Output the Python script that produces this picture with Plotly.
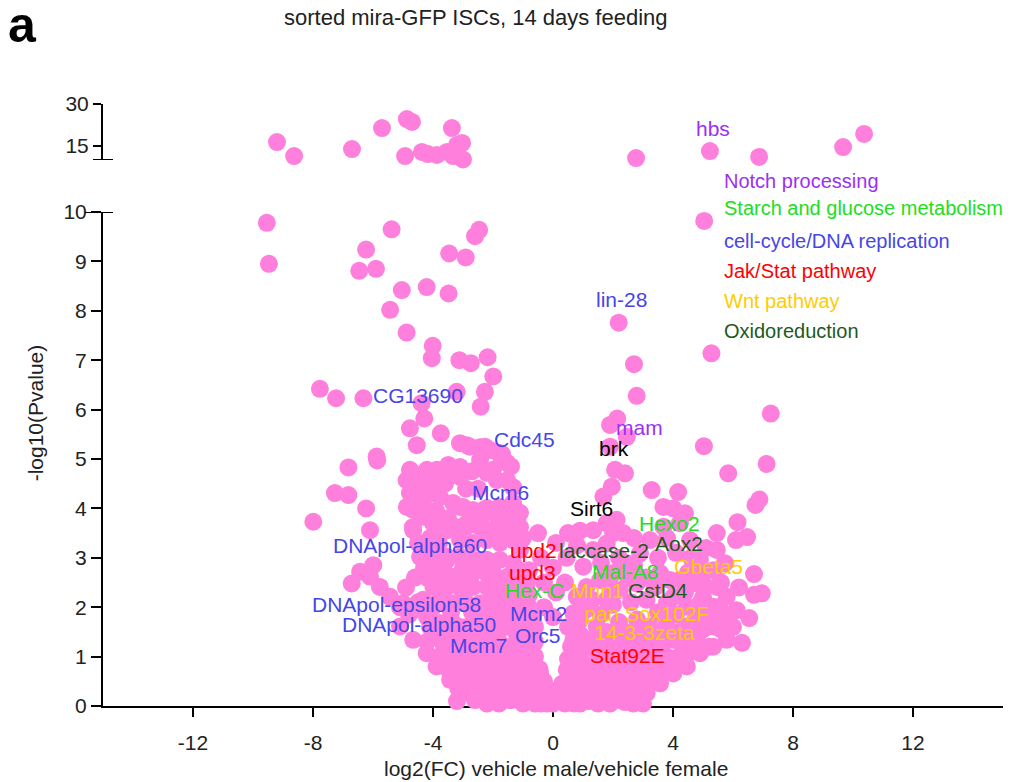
import plotly.graph_objects as go

# ---------------- data ----------------
# points in the lower (0-10) segment: log2FC, -log10(p)
low_x = [
    -9.54, -9.47, -5.38, -6.23, -6.46, -5.90, -5.04, -4.21, -3.48, -5.43, -3.46, -2.91, -2.60, -2.46,
    -4.88, -4.01, -4.04, -3.12, -2.74, -2.18, -1.99, -7.77, -7.23, -6.32, -3.21, -2.27, -2.41, -4.38,
    -4.29, -4.77, -4.54, -3.74, -3.10, -2.77, -2.27, -1.77, -5.88, -1.70, -1.40,
    -6.82, -5.86, -7.27, -6.82, -6.23, -7.99, -6.10, -4.71, -4.88, -4.21, -3.49, -3.66, -3.10, -3.88,
    -4.77, -4.32, -4.66, -3.10, -2.32, -1.43, -1.21, -1.88, -2.88, -3.99, -4.66, -3.66, -4.21, -3.88,
    -3.54, -5.99, -6.43, -6.71, -6.10, -5.77, -5.43, -3.99, -3.32, -2.21, -2.77, -2.43, -1.99, -1.66,
    -1.21, -1.10, -0.88, -5.10, -4.66, -4.21, -3.88, -3.43, -3.16, -2.88, -2.88, -2.54, -2.21, -2.43,
    -1.88, -1.32, -0.99, -1.43, -1.88, -2.10, -1.32, -0.77, -0.43, -0.66, -0.21, -1.43, -0.88,
    -2.87, -2.43, -2.10, -1.77, -1.53, -2.43, -2.00, -1.53, -1.33, -1.87, -2.20, -3.10, -3.87, -4.20,
    -4.77, -4.77, -4.43, -4.00, -3.77, -3.33, -3.00, -2.67, -2.20, -1.77, -1.33, -1.10, -1.10, -1.53,
    -2.00, -2.43, -2.87, -3.20, -3.53, -4.00, -4.33, -4.67, -4.87, -4.67, -3.10, -2.67, -2.20, -1.77,
    -1.33, -1.10, -1.33, -1.77, -2.20, -2.67, -3.10, -3.53, -4.00, -4.43, -3.87, -3.33, -2.87, -2.43,
    -2.00, -1.53, -1.10, -0.87, -1.33, -1.77, -2.20, -2.67, -3.10, -3.53, -4.33, -3.87, -3.33, -2.87,
    -2.20, -1.53, -0.87, -0.67, -1.10, -1.53, -2.00, -2.43, -2.87, -3.33, -3.77, -4.20, -4.67, -5.00,
    -5.10, -4.80, -4.50, -4.90, -4.60, -4.30, -4.00, -3.70, -3.40, -3.00, -2.70, -2.20, -1.70, -1.40,
    -4.10, -3.60, -3.10, -2.60, -1.60, -0.90,
    -4.20, -3.70, -3.20, -2.70, -2.20, -1.80, -1.00, -0.60,
    -3.80, -3.40, -2.50, -2.00, -1.60, -1.20, -0.60,
    -3.50, -3.00, -2.20, -1.80, -1.40, -1.00, -0.45,
    -3.00, -2.60, -1.80, -1.40, -1.00, -0.60, -0.30,
    -2.70, -2.30, -1.90, -1.50, -1.10, -0.35, -0.20, 0.00,
    -2.20, -1.80, -1.00, -0.60, 0.00,
    -0.50, -0.40, -0.30, -0.30, -0.60, 0.10, 0.00, 0.10, 0.00, 0.50, 0.45, 0.40, 0.50, 0.90,
    2.19, 5.04, 5.28, 2.70, 2.79, 7.26, 2.14, 1.90, 2.46, 1.90, 7.12, 6.88, 6.75, 6.15, 6.47, 6.10,
    6.70, 6.96, 6.70, 6.54, 6.30, 5.84, 5.03, 4.17, 3.29, 4.01, 3.68, 2.07, 2.40, 1.96, 1.68, 1.79,
    1.34, 2.12, 2.34, 5.46, 5.73, 5.46, 5.79, 6.12, 5.79, 5.34, 4.90, 5.79, 5.34, 4.90, 4.46, 4.01,
    3.57, 3.12, 2.68, 2.23, 2.90, 2.34, 3.34, 3.79, 4.34, 4.79, 5.34, 5.68, 4.46, 4.01, 3.57, 3.12,
    2.68, 2.01, 1.57, 1.12, 0.68, 0.23, 0.90, 0.46, 1.23, 0.68, 0.90, 1.46, 1.79, 2.23, 2.79, 3.12,
    4.01, 4.46, 4.90, 3.79, 3.23, 2.68, 2.12, 1.68, 3.57, 4.23, 4.79, 5.12, 3.23, 2.90, 2.46, 2.01,
    1.57, 1.12, 0.79, 0.68, 1.34, 1.01, 1.79, 3.68, 4.23, 4.57, 4.90, 5.34, 5.46,
    1.80, 2.40, 3.00, 3.60, 4.20,
    0.60, 1.10, 2.20, 2.80, 3.40, 4.60, 5.20,
    0.50, 1.50, 2.00, 2.30, 4.00, 4.40,
    0.90, 1.40, 1.90, 2.40, 3.60,
    0.30, 0.80, 1.30, 1.80, 2.80,
    0.15, 0.60, 1.10, 1.60, 2.10, 2.60,
    0.40, 0.90, 1.50, 1.90,
    # extra points read from the dense parts of both wings
    -4.50, -4.10, -3.60, -3.30, -2.90, -2.50, -2.70, -4.40, -3.90, -3.50, -2.40, -1.90, -1.50,
    -4.50, -4.10, -3.80, -1.00, -4.20, -3.60, -3.00, -2.40, -1.90, -1.40, -0.80, -0.80,
    -4.00, -3.50, -3.00, -2.40, -2.00, -1.20, -3.60, -3.10, -2.60, -2.00, -1.40, -0.90,
    -3.30, -2.80, -2.30, -1.80, -1.30, -0.80, -3.20, -2.70, -2.00, -1.60, -1.20, -0.80,
    -2.80, -2.40, -2.00, -1.60, -1.20, -0.80, -0.50, -2.60, -1.40, -0.40,
    0.20, 0.70, 1.20, 1.70, 2.40, 2.90, 0.50, 1.00, 1.50, 2.00, 2.50, 3.10,
    0.70, 1.20, 1.70, 2.20, 2.70, 3.20, 3.70, 0.80, 1.40, 1.90, 2.50, 3.00, 3.60, 4.20,
    0.90, 1.50, 2.60, 3.30, 3.90, 4.50, 5.00, 5.60, 1.10, 1.60, 2.20, 2.80, 3.50, 4.10,
    4.70, 5.20, 6.00, 1.30, 2.00, 2.60, 3.40, 3.80, 4.40, 5.00, 5.50, 1.90, 2.50, 3.10,
    3.90, 4.50, 5.00, 5.60, 6.20, 1.60, 2.20, 2.70, 3.50, 4.10, 4.60, 5.10, 0.80, 2.00,
    2.70, 3.80, 4.40, -3.20, 3.00,
]
low_y = [
    9.78, 8.95, 9.65, 9.24, 8.81, 8.85, 8.42, 8.48, 8.35, 8.02, 9.16, 9.08, 9.51, 9.64,
    7.56, 7.29, 7.04, 7.00, 6.94, 7.06, 6.67, 6.42, 6.23, 6.23, 6.36, 6.36, 6.06, 6.13,
    5.82, 5.62, 5.28, 5.52, 5.32, 5.25, 5.25, 5.12, 5.05, 5.10, 4.85,
    4.83, 4.97, 4.31, 4.27, 4.00, 3.73, 3.56, 4.74, 4.57, 4.64, 4.88, 4.78, 4.64, 4.44,
    4.31, 4.17, 3.97, 4.03, 3.97, 4.03, 3.77, 3.63, 3.63, 3.73, 3.56, 3.56, 3.16, 3.02,
    2.96, 2.85, 2.72, 2.48, 2.62, 2.41, 2.21, 2.41, 2.55, 2.69, 2.55, 2.08, 2.15, 2.35,
    2.55, 2.15, 1.88, 1.61, 1.34, 1.07, 0.80, 0.53, 0.36, 0.66, 1.00, 0.80, 0.53, 0.19,
    0.39, 0.66, 1.00, 1.20, 1.34, 1.61, 1.61, 1.34, 0.66, 0.26, 0.12, 0.12, 0.53,
    5.28, 5.24, 5.18, 5.08, 4.92, 4.98, 4.78, 4.57, 4.43, 4.57, 4.72, 4.84, 4.78, 4.78,
    4.78, 4.51, 4.37, 4.43, 4.23, 4.11, 4.03, 3.97, 4.01, 4.03, 4.11, 3.91, 3.62, 3.56,
    3.56, 3.62, 3.70, 3.62, 3.56, 3.70, 3.83, 3.62, 4.03, 4.17, 3.36, 3.30, 3.36, 3.30,
    3.36, 3.16, 2.89, 2.96, 2.96, 2.96, 3.02, 3.02, 2.89, 3.02, 2.61, 2.61, 2.69, 2.75,
    2.69, 2.61, 2.75, 2.49, 2.35, 2.35, 2.41, 2.41, 2.41, 2.41, 2.15, 2.08, 2.08, 2.08,
    2.08, 2.08, 2.08, 1.80, 1.80, 1.74, 1.68, 1.68, 1.60, 1.68, 1.68, 1.80, 1.94, 2.08,
    2.00, 1.85, 2.10, 2.40, 2.60, 2.80, 2.00, 2.20, 1.90, 2.20, 1.90, 1.85, 1.90, 2.00,
    1.60, 1.60, 1.60, 1.60, 1.60, 1.60,
    1.30, 1.30, 1.30, 1.30, 1.30, 1.30, 1.30, 1.30,
    1.00, 1.00, 1.00, 1.00, 1.00, 1.00, 1.00,
    0.75, 0.75, 0.75, 0.75, 0.75, 0.75, 0.75,
    0.50, 0.50, 0.50, 0.50, 0.50, 0.50, 0.50,
    0.25, 0.25, 0.25, 0.25, 0.25, 0.25, 0.05, 0.05,
    0.05, 0.05, 0.05, 0.05, 0.30,
    3.50, 3.00, 2.50, 2.00, 1.60, 3.30, 2.80, 2.30, 1.80, 3.50, 3.00, 2.50, 1.60, 3.55,
    7.76, 9.82, 7.14, 6.92, 6.28, 5.92, 5.82, 5.69, 5.45, 5.25, 4.90, 4.18, 4.07, 3.72, 3.42, 3.36,
    2.67, 2.28, 2.25, 1.78, 1.28, 4.71, 5.26, 4.33, 4.37, 4.00, 4.03, 4.78, 4.71, 4.44, 4.24, 3.70,
    3.56, 3.77, 3.50, 3.16, 2.89, 2.41, 2.21, 1.94, 1.74, 2.01, 2.08, 1.34, 1.20, 1.07, 0.80, 0.66,
    0.46, 0.26, 0.05, 0.12, 0.66, 0.53, 0.80, 1.00, 1.20, 1.40, 1.61, 1.88, 1.61, 1.34, 1.20, 1.07,
    0.93, 0.80, 0.66, 0.53, 0.32, 0.12, 1.00, 0.73, 1.34, 1.34, 1.74, 1.61, 2.15, 2.35, 2.48, 2.15,
    2.21, 2.01, 1.81, 1.74, 1.61, 1.47, 1.34, 1.20, 2.69, 2.55, 2.48, 2.41, 3.36, 3.09, 2.89, 2.69,
    2.55, 2.41, 2.21, 1.88, 3.16, 2.82, 3.29, 3.63, 3.70, 3.36, 2.96, 2.75, 3.50,
    1.50, 1.50, 1.50, 1.50, 1.50,
    1.20, 1.20, 1.20, 1.20, 1.20, 1.20, 1.20,
    0.95, 0.95, 0.95, 0.95, 0.95, 0.95,
    0.70, 0.70, 0.70, 0.70, 0.70,
    0.45, 0.45, 0.45, 0.45, 0.45,
    0.25, 0.25, 0.25, 0.25, 0.25, 0.25,
    0.05, 0.05, 0.05, 0.05,
    # extra points
    4.60, 4.30, 4.50, 4.70, 4.40, 4.40, 4.75, 4.00, 3.95, 3.80, 3.80, 3.90, 3.80,
    3.30, 3.40, 3.30, 3.40, 2.60, 2.70, 2.80, 2.95, 2.50, 2.65, 2.75, 2.25,
    1.45, 1.45, 1.40, 1.45, 1.50, 1.45, 1.15, 1.15, 1.15, 1.15, 1.15, 1.15,
    0.90, 0.90, 0.90, 0.90, 0.90, 0.90, 0.65, 0.60, 0.62, 0.60, 0.60, 0.60,
    0.38, 0.38, 0.38, 0.38, 0.38, 0.38, 0.30, 0.12, 0.12, 0.05,
    0.30, 0.05, 0.10, 0.12, 0.08, 0.30, 0.55, 0.35, 0.40, 0.35, 0.35, 0.55,
    0.85, 0.80, 0.85, 0.65, 0.75, 0.85, 0.80, 1.10, 1.15, 1.05, 1.10, 1.25, 1.05, 1.00,
    1.45, 1.35, 1.25, 1.40, 1.50, 1.35, 1.55, 1.55, 1.95, 1.85, 1.70, 1.75, 1.90, 1.85,
    1.70, 1.80, 1.60, 2.15, 2.05, 2.10, 2.40, 2.10, 2.30, 2.20, 2.00, 2.45, 2.60, 2.60,
    2.55, 2.70, 2.70, 2.50, 2.40, 2.90, 3.00, 2.85, 3.00, 3.10, 3.00, 3.20, 3.25, 3.50,
    3.40, 3.40, 3.90, 0.10, 0.05,
]

# points in the upper (broken) segment, -log10(p) between 10 and 30
up_x = [-9.20, -8.63, -6.70, -5.70, -4.87, -4.70, -3.37, -4.93, -4.37, -4.17, -3.87, -3.53, -3.33,
        -3.03, -3.00, -3.20, 2.77, 5.23, 6.87, 9.67, 10.37]
up_y = [16.4, 11.4, 13.9, 21.4, 24.6, 23.6, 21.4, 11.4, 12.9, 12.1, 11.8, 12.9, 11.4,
        16.1, 10.2, 15.4, 10.7, 13.2, 11.1, 14.6, 19.3]

# gene labels
gene_names = ["lin-28", "CG13690", "Cdc45", "mam", "brk", "Mcm6", "Sirt6", "Hexo2", "DNApol-alpha60",
              "upd2", "laccase-2", "Aox2", "Gbeta5", "upd3", "Mal-A8", "Hex-C", "Mnn1", "GstD4",
              "DNApol-epsilon58", "Mcm2", "pan Sox102F", "DNApol-alpha50", "Orc5", "14-3-3zeta",
              "Mcm7", "Stat92E"]
gene_x = [1.37, -6.07, -2.03, 2.03, 1.47, -2.77, 0.50, 2.80, -7.40,
          -1.50, 0.13, 3.33, 3.97, -1.53, 1.23, -1.67, 0.53, 2.43,
          -8.10, -1.50, 0.97, -7.10, -1.33, 1.30,
          -3.50, 1.17]
gene_y = [8.22, 6.28, 5.40, 5.63, 5.22, 4.33, 4.00, 3.70, 3.24,
          3.14, 3.14, 3.28, 2.83, 2.71, 2.73, 2.33, 2.33, 2.33,
          2.06, 1.88, 1.88, 1.64, 1.42, 1.48,
          1.23, 1.03]
gene_group = ["cc", "cc", "cc", "notch", "k", "cc", "k", "starch", "cc",
              "jak", "oxi", "oxi", "wnt", "jak", "starch", "starch", "wnt", "oxi",
              "cc", "cc", "wnt", "cc", "cc", "wnt",
              "cc", "jak"]

hbs_x, hbs_y = 4.70, 21.4  # label in the upper segment

legend_names = ["Notch processing", "Starch and glucose metabolism", "cell-cycle/DNA replication",
                "Jak/Stat pathway", "Wnt pathway", "Oxidoreduction"]
legend_group = ["notch", "starch", "cc", "jak", "wnt", "oxi"]

x_ticks = [-12, -8, -4, 0, 4, 8, 12]
x_tick_text = ["-12", "-8", "-4", "0", "4", "8", "12"]
y_ticks_low = list(range(0, 11))
y_ticks_up = [15, 30]

# ---------------- style ----------------
colors = {"notch": "#9B30F5", "starch": "#22DD22", "cc": "#4646E6", "jak": "#FF0000",
          "wnt": "#FFCC00", "oxi": "#1C5A1C", "k": "#000000"}
PINK = "#FF7FDC"
FONT = "Liberation Sans, Arial, sans-serif"
legend_pos_y = [0.872, 0.827, 0.772, 0.723, 0.673, 0.623]   # paper coords of legend rows

fig = go.Figure()
fig.add_trace(go.Scatter(x=low_x, y=low_y, mode="markers", xaxis="x", yaxis="y",
                         marker=dict(size=18, color=PINK, line=dict(width=0)),
                         cliponaxis=False, hoverinfo="skip", showlegend=False))
fig.add_trace(go.Scatter(x=up_x, y=up_y, mode="markers", xaxis="x", yaxis="y2",
                         marker=dict(size=18, color=PINK, line=dict(width=0)),
                         cliponaxis=False, hoverinfo="skip", showlegend=False))

ann = []
for n, gx, gy, g in zip(gene_names, gene_x, gene_y, gene_group):
    ann.append(dict(x=gx, y=gy, xref="x", yref="y", text=n, showarrow=False, xanchor="left",
                    yanchor="middle", font=dict(family=FONT, size=21, color=colors[g])))
ann.append(dict(x=hbs_x, y=hbs_y, xref="x", yref="y2", text="hbs", showarrow=False, xanchor="left",
                yanchor="middle", font=dict(family=FONT, size=21, color=colors["notch"])))
for n, g, ly in zip(legend_names, legend_group, legend_pos_y):
    ann.append(dict(x=0.688, y=ly, xref="paper", yref="paper", text=n, showarrow=False, xanchor="left",
                    yanchor="middle", font=dict(family=FONT, size=20, color=colors[g])))

# titles
ann.append(dict(x=0.414, y=1.143, xref="paper", yref="paper", text="sorted mira-GFP ISCs, 14 days feeding",
                showarrow=False, xanchor="center", yanchor="middle", font=dict(family=FONT, size=22, color="#222")))
ann.append(dict(x=-0.089, y=1.132, xref="paper", yref="paper", text="<b>a</b>",
                showarrow=False, xanchor="center", yanchor="middle", font=dict(family=FONT, size=50, color="black")))
ann.append(dict(x=-0.075, y=0.487, xref="paper", yref="paper", text="-log10(Pvalue)", textangle=-90,
                showarrow=False, xanchor="center", yanchor="middle", font=dict(family=FONT, size=21, color="#222")))
ann.append(dict(x=0.503, y=-0.103, xref="paper", yref="paper", text="log2(FC) vehicle male/vehicle female",
                showarrow=False, xanchor="center", yanchor="middle", font=dict(family=FONT, size=21, color="#222")))

low_top = 494 / 602
up_bottom = 546 / 602

shapes = [
    dict(type="line", xref="paper", yref="y", x0=-0.02, x1=0.0111, y0=10, y1=10,
         line=dict(color="black", width=2)),
    dict(type="line", xref="paper", yref="y2", x0=-0.0111, x1=0.0111, y0=10, y1=10,
         line=dict(color="black", width=2)),
]

axis_common = dict(showgrid=False, zeroline=False, showline=True, linecolor="black", linewidth=2,
                   ticks="outside", tickcolor="black", tickwidth=2, automargin=False,
                   tickfont=dict(family=FONT, size=21, color="#222"))

fig.update_layout(
    width=1013, height=782,
    margin=dict(l=103, r=10, t=104, b=76, autoexpand=False),
    plot_bgcolor="white", paper_bgcolor="white",
    showlegend=False,
    xaxis=dict(range=[-15, 15], tickvals=x_ticks, ticktext=x_tick_text, ticklen=9, anchor="y",
               layer="below traces", ticklabelstandoff=8, **axis_common),
    yaxis=dict(range=[0, 10], domain=[0, low_top], tickvals=y_ticks_low, ticklen=10, anchor="x",
               layer="below traces", ticklabelstandoff=0, **axis_common),
    yaxis2=dict(range=[10, 30], domain=[up_bottom, 1.0], tickvals=y_ticks_up, ticklen=8, anchor="x",
                layer="below traces", ticklabelstandoff=0, **axis_common),
    annotations=ann,
    shapes=shapes,
)

# remove the default page margin so the 1013x782 figure fills the window exactly
fig.write_html("out.html", config={"displayModeBar": False},
               post_script="document.body.style.margin='0px';")
